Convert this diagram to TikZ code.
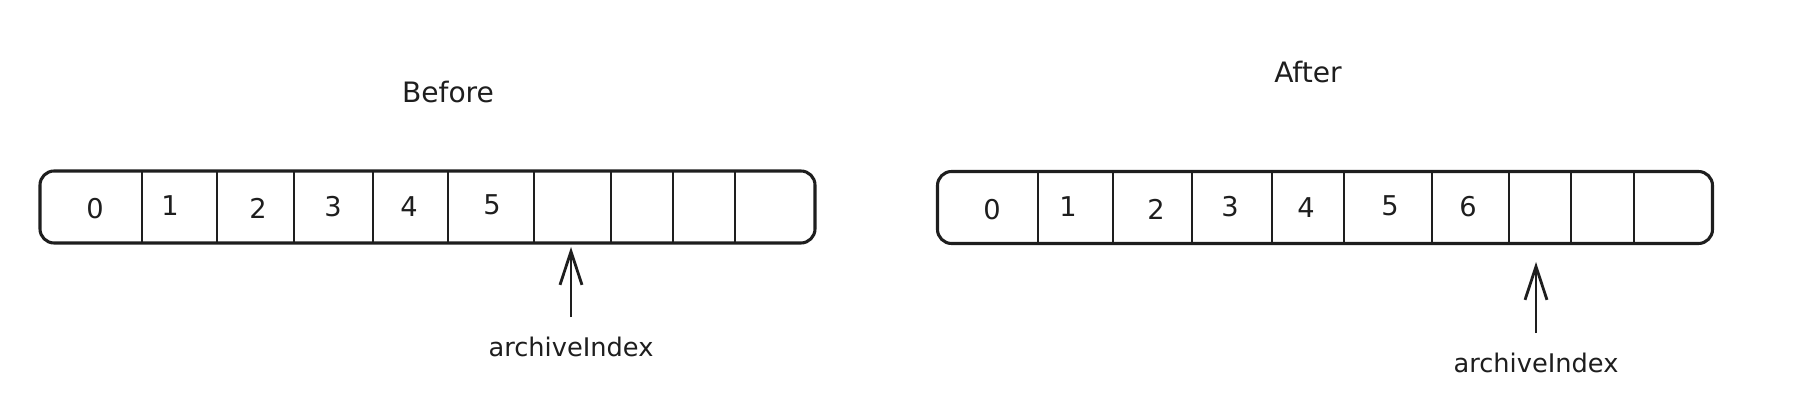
\documentclass[tikz,border=0pt]{standalone}
\usepackage{fontspec}
\setmainfont{DejaVu Sans}
\usetikzlibrary{arrows.meta}
\definecolor{ink}{HTML}{1E1E1E}

\begin{document}
\begin{tikzpicture}[
	arraybox/.style={draw=ink, rectangle, rounded corners=8pt, line width=1.75pt, minimum width=15.5cm, minimum height=1.44cm, inner sep=0pt},
	wall/.style={draw=ink, line width=1.5pt},
	digit/.style={text=ink, font=\fontsize{15.5}{18}\selectfont},
	heading/.style={text=ink, anchor=base, font=\fontsize{16}{19}\selectfont},
	lbl/.style={text=ink, anchor=base, font=\fontsize{14.6}{17}\selectfont},
	ptr/.style={draw=ink, line width=1.6pt, -{Straight Barb[length=19pt, width=12.5pt]}, shorten <=8pt}
]
				\useasboundingbox (0, 0) rectangle (36.04, 8.32);
				% before
				\node[heading] (before)at(8.96, 6.26) {Before};
				\node[arraybox] (arrA)at(8.55, 4.18) {};
				\draw[wall] (2.84, 4.90) -- (2.84, 3.46);
				\draw[wall] (4.34, 4.90) -- (4.34, 3.46);
				\draw[wall] (5.88, 4.90) -- (5.88, 3.46);
				\draw[wall] (7.46, 4.90) -- (7.46, 3.46);
				\draw[wall] (8.96, 4.90) -- (8.96, 3.46);
				\draw[wall] (10.68, 4.90) -- (10.68, 3.46);
				\draw[wall] (12.22, 4.90) -- (12.22, 3.46);
				\draw[wall] (13.46, 4.90) -- (13.46, 3.46);
				\draw[wall] (14.70, 4.90) -- (14.70, 3.46);
				\node[digit] (a0)at(1.90, 4.14) {0};
				\node[digit] (a1)at(3.40, 4.20) {1};
				\node[digit] (a2)at(5.16, 4.16) {2};
				\node[digit] (a3)at(6.66, 4.18) {3};
				\node[digit] (a4)at(8.18, 4.18) {4};
				\node[digit] (a5)at(9.84, 4.22) {5};
				\coordinate (tipA)at(11.42, 3.38);
				\node[lbl] (idxA)at(11.42, 1.18) {archiveIndex};
				\draw[ptr] (idxA.north) -- (tipA);
				% after
				\node[heading] (after)at(26.16, 6.66) {After};
				\node[arraybox] (arrB)at(26.50, 4.17) {};
				\draw[wall] (20.76, 4.89) -- (20.76, 3.45);
				\draw[wall] (22.26, 4.89) -- (22.26, 3.45);
				\draw[wall] (23.84, 4.89) -- (23.84, 3.45);
				\draw[wall] (25.44, 4.89) -- (25.44, 3.45);
				\draw[wall] (26.88, 4.89) -- (26.88, 3.45);
				\draw[wall] (28.64, 4.89) -- (28.64, 3.45);
				\draw[wall] (30.18, 4.89) -- (30.18, 3.45);
				\draw[wall] (31.42, 4.89) -- (31.42, 3.45);
				\draw[wall] (32.68, 4.89) -- (32.68, 3.45);
				\node[digit] (b0)at(19.84, 4.12) {0};
				\node[digit] (b1)at(21.36, 4.18) {1};
				\node[digit] (b2)at(23.12, 4.14) {2};
				\node[digit] (b3)at(24.60, 4.18) {3};
				\node[digit] (b4)at(26.12, 4.16) {4};
				\node[digit] (b5)at(27.80, 4.20) {5};
				\node[digit] (b6)at(29.36, 4.18) {6};
				\coordinate (tipB)at(30.72, 3.08);
				\node[lbl] (idxB)at(30.72, 0.86) {archiveIndex};
				\draw[ptr] (idxB.north) -- (tipB);
			\end{tikzpicture}
\end{document}
